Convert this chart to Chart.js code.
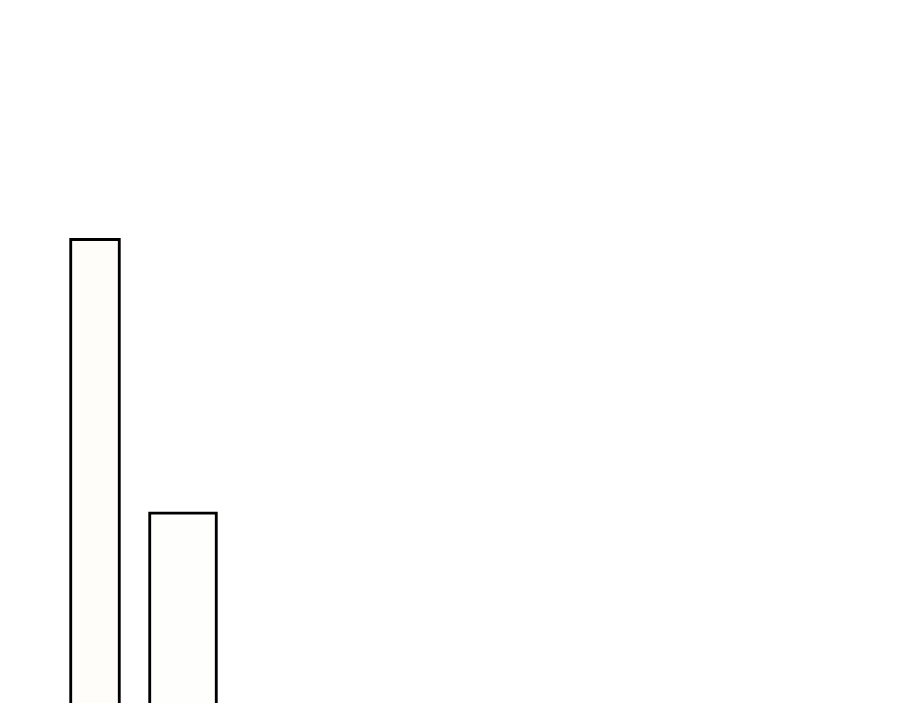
<!DOCTYPE html>
<html>
<head>
<meta charset="utf-8">
<script src="https://cdn.jsdelivr.net/npm/chart.js@4"></script>
<style>
  html, body { margin: 0; padding: 0; background: #ffffff; }
  #wrap { width: 900px; height: 703px; }
</style>
</head>
<body>
<div id="wrap"><canvas id="myChart" width="900" height="703"></canvas></div>
<script>
// categories and values (no labels shown, so relative heights only)
const categories = ['A', 'B'];
const tallValues = [66.1, null];
const shortValues = [null, 27.2];

const ctx = document.getElementById('myChart').getContext('2d');
const myChart = new Chart(ctx, {
  type: 'bar',
  data: {
    labels: categories,
    datasets: [
      {
        data: tallValues,
        backgroundColor: '#fefdfa',
        borderColor: '#000000',
        borderWidth: 3,
        barThickness: 51
      },
      {
        data: shortValues,
        backgroundColor: '#fefefd',
        borderColor: '#000000',
        borderWidth: 3,
        barThickness: 69
      }
    ]
  },
  options: {
    responsive: false,
    maintainAspectRatio: false,
    animation: false,
    devicePixelRatio: 1,
    layout: { padding: { left: 51, right: 673, top: 0, bottom: 0 } },
    plugins: { legend: { display: false }, tooltip: { enabled: false } },
    scales: {
      x: { display: false, stacked: true },
      y: { display: false, min: 0, max: 100 }
    }
  }
});
</script>
</body>
</html>
